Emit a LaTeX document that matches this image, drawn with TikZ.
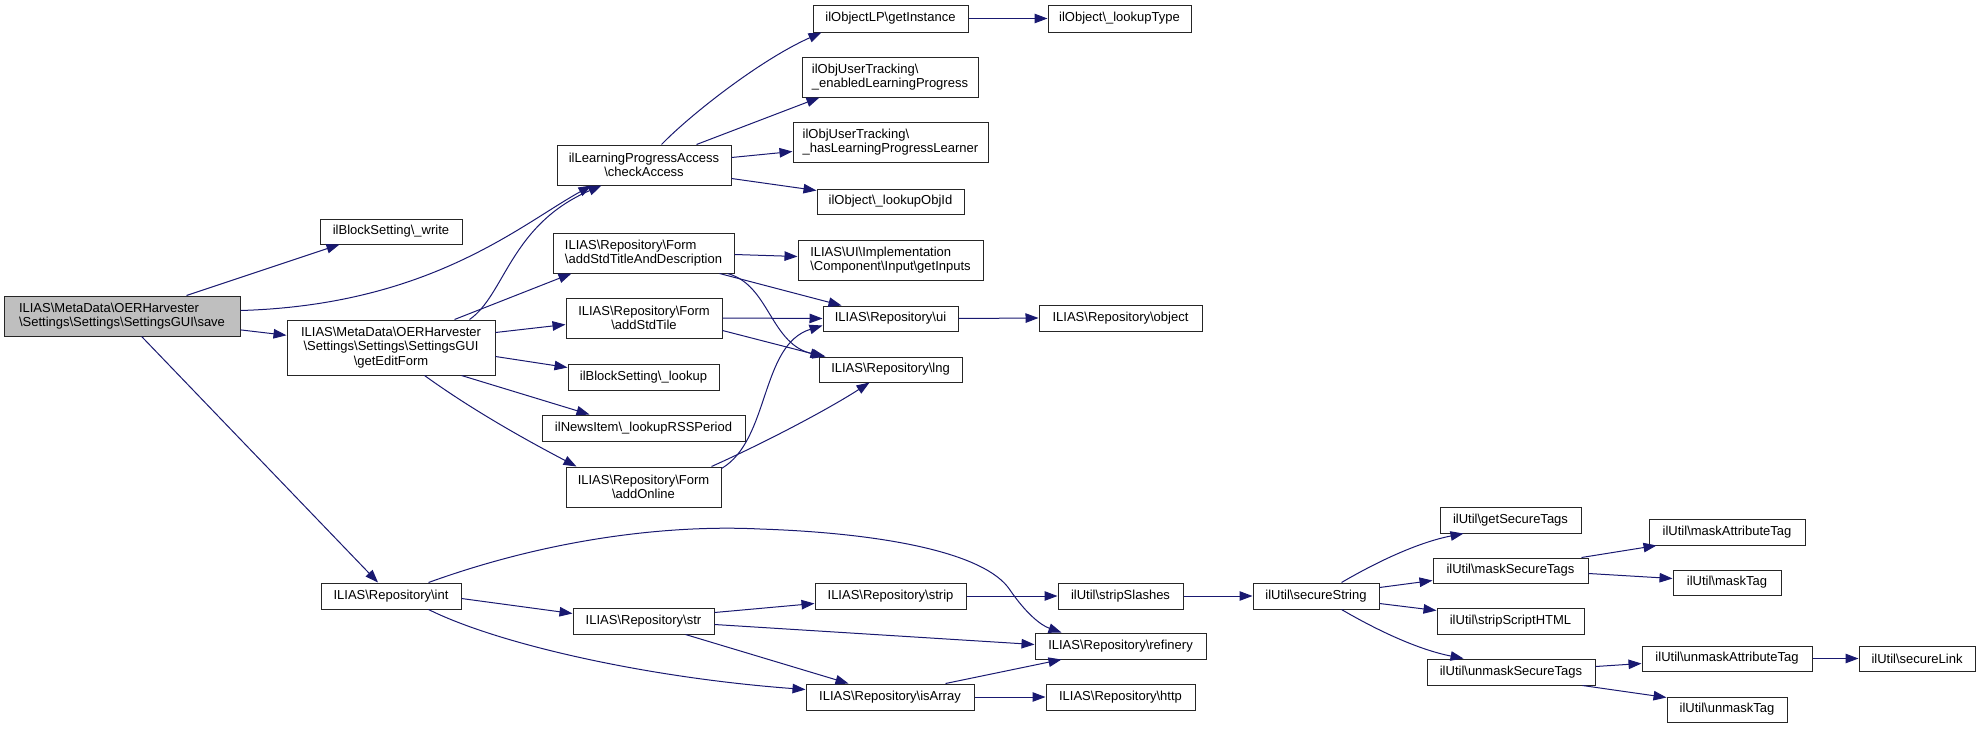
\documentclass[tikz,border=0pt]{standalone}
\usepackage{fontspec}
\setmainfont{Liberation Sans}
\usetikzlibrary{arrows.meta}
\definecolor{edgeblue}{HTML}{191970}
\definecolor{savegray}{HTML}{BFBFBF}
\newcommand{\bs}{\textbackslash}
\begin{document}
\begin{tikzpicture}[x=1pt,y=-1pt,
  box/.style={draw=black!85, line width=1pt, fill=white, inner sep=0pt, font=\fontsize{13}{14.5}\selectfont, align=center},
  edge/.style={draw=edgeblue, line width=1pt, -{Triangle[length=13pt,width=9.5pt]}}]
\useasboundingbox (0,0) rectangle (1980,728);
% rank 0
\node[box, fill=savegray, align=left, minimum width=236pt, minimum height=40pt] (save) at (122,316) {ILIAS\bs MetaData\bs OERHarvester\\\bs Settings\bs Settings\bs SettingsGUI\bs save};
% rank 1
\node[box, minimum width=142pt, minimum height=25pt] (ilBSw) at (391,231.5) {ilBlockSetting\bs\_write};
\node[box, minimum width=208pt, minimum height=55pt] (gEF) at (391,347.5) {ILIAS\bs MetaData\bs OERHarvester\\\bs Settings\bs Settings\bs SettingsGUI\\\bs getEditForm};
\node[box, minimum width=140pt, minimum height=26pt] (int) at (391,596) {ILIAS\bs Repository\bs int};
% rank 2
\node[box, minimum width=174pt, minimum height=40pt] (cA) at (644,165) {ilLearningProgressAccess\\\bs checkAccess};
\node[box, align=left, minimum width=181pt, minimum height=40pt] (atd) at (643.5,253) {ILIAS\bs Repository\bs Form\\\bs addStdTitleAndDescription};
\node[box, minimum width=156pt, minimum height=40pt] (ast) at (644,318) {ILIAS\bs Repository\bs Form\\\bs addStdTile};
\node[box, minimum width=151pt, minimum height=26pt] (ilBSl) at (643.5,377) {ilBlockSetting\bs\_lookup};
\node[box, minimum width=203pt, minimum height=26pt] (RSS) at (643.5,428) {ilNewsItem\bs\_lookupRSSPeriod};
\node[box, minimum width=155pt, minimum height=40pt] (online) at (643.5,487) {ILIAS\bs Repository\bs Form\\\bs addOnline};
\node[box, minimum width=141pt, minimum height=26pt] (str) at (643.5,621) {ILIAS\bs Repository\bs str};
% rank 3
\node[box, minimum width=155pt, minimum height=27pt] (gI) at (890.5,18.5) {ilObjectLP\bs getInstance};
\node[box, align=left, minimum width=176pt, minimum height=40pt] (en) at (890,77) {ilObjUserTracking\bs\\\_enabledLearningProgress};
\node[box, align=left, minimum width=195pt, minimum height=40pt] (has) at (890.5,142) {ilObjUserTracking\bs\\\_hasLearningProgressLearner};
\node[box, minimum width=147pt, minimum height=25pt] (loi) at (890.5,201.5) {ilObject\bs\_lookupObjId};
\node[box, align=left, minimum width=185pt, minimum height=40pt] (gIn) at (890.5,260) {ILIAS\bs UI\bs Implementation\\\bs Component\bs Input\bs getInputs};
\node[box, minimum width=135pt, minimum height=25pt] (ui) at (890.5,318.5) {ILIAS\bs Repository\bs ui};
\node[box, minimum width=143pt, minimum height=25pt] (lng) at (890.5,369.5) {ILIAS\bs Repository\bs lng};
\node[box, minimum width=151pt, minimum height=26pt] (strip) at (890.5,596) {ILIAS\bs Repository\bs strip};
\node[box, minimum width=168pt, minimum height=26pt] (isA) at (890,697) {ILIAS\bs Repository\bs isArray};
% rank 4
\node[box, minimum width=143pt, minimum height=27pt] (lT) at (1119.5,18.5) {ilObject\bs\_lookupType};
\node[box, minimum width=163pt, minimum height=26pt] (obj) at (1120.5,318) {ILIAS\bs Repository\bs object};
\node[box, minimum width=125pt, minimum height=26pt] (sS) at (1120.5,596) {ilUtil\bs stripSlashes};
\node[box, minimum width=171pt, minimum height=26pt] (ref) at (1120.5,646) {ILIAS\bs Repository\bs refinery};
\node[box, minimum width=149pt, minimum height=26pt] (http) at (1120.5,697) {ILIAS\bs Repository\bs http};
% rank 5
\node[box, minimum width=126pt, minimum height=26pt] (sSt) at (1316,596) {ilUtil\bs secureString};
% rank 6
\node[box, minimum width=141pt, minimum height=26pt] (gST) at (1510.5,520) {ilUtil\bs getSecureTags};
\node[box, minimum width=155pt, minimum height=25pt] (mST) at (1510.5,570.5) {ilUtil\bs maskSecureTags};
\node[box, minimum width=147pt, minimum height=26pt] (sSH) at (1510.5,621) {ilUtil\bs stripScriptHTML};
\node[box, minimum width=168pt, minimum height=26pt] (uST) at (1511,672) {ilUtil\bs unmaskSecureTags};
% rank 7
\node[box, minimum width=156pt, minimum height=26pt] (mAT) at (1727,532) {ilUtil\bs maskAttributeTag};
\node[box, minimum width=108pt, minimum height=25pt] (mT) at (1727,582.5) {ilUtil\bs maskTag};
\node[box, minimum width=170pt, minimum height=25pt] (uAT) at (1727,658.5) {ilUtil\bs unmaskAttributeTag};
\node[box, minimum width=120pt, minimum height=25pt] (uT) at (1727,709.5) {ilUtil\bs unmaskTag};
% rank 8
\node[box, minimum width=116pt, minimum height=25pt] (sL) at (1917,658.5) {ilUtil\bs secureLink};

% edges from save
\draw[edge] ([xshift=183pt]save.north west) -- ([xshift=20pt]ilBSw.south west);
\draw[edge] ([yshift=-15pt]save.north east) .. controls (430,305) and (520,225) .. ([xshift=35pt]cA.south west);
\draw[edge] (save) -- (gEF);
\draw[edge] (save) -- (int);
% edges from getEditForm
\draw[edge] ([xshift=183pt]gEF.north west) .. controls (505,295) and (510,225) .. ([xshift=45pt]cA.south west);
\draw[edge] ([xshift=168pt]gEF.north west) -- ([xshift=19pt]atd.south west);
\draw[edge] ([yshift=-13pt]gEF.north east) -- ([yshift=-27pt]ast.north west);
\draw[edge] ([yshift=-37pt]gEF.north east) -- ([yshift=-4pt]ilBSl.north west);
\draw[edge] ([xshift=175pt]gEF.south west) -- ([xshift=48pt]RSS.north west);
\draw[edge] ([xshift=138pt]gEF.south west) .. controls (475,412) and (530,442) .. ([xshift=11pt]online.north west);
% edges from checkAccess
\draw[edge] ([xshift=105pt]cA.north west) .. controls (690,115) and (760,60) .. ([xshift=9pt]gI.south west);
\draw[edge] ([xshift=140pt]cA.north west) -- ([xshift=18pt]en.south west);
\draw[edge] ([yshift=-13pt]cA.north east) -- ([yshift=-30pt]has.north west);
\draw[edge] ([yshift=-34pt]cA.north east) -- ([yshift=-2pt]loi.north west);
\draw[edge] (gI.east) -- (lT.west);
% edges from form helpers
\draw[edge] ([yshift=-22pt]atd.north east) -- ([yshift=-17pt]gIn.north west);
\draw[edge] ([xshift=167pt]atd.south west) -- ([xshift=19pt]ui.north west);
\draw[edge] ([xshift=175pt]atd.south west) .. controls (770,285) and (770,345) .. ([xshift=7pt]lng.north west);
\draw[edge] (ast.east) -- (ui.west);
\draw[edge] ([yshift=-33pt]ast.north east) -- ([xshift=5pt]lng.north west);
\draw[edge] ([yshift=-2pt]online.north east) .. controls (770,440) and (760,345) .. ([yshift=-20pt]ui.north west);
\draw[edge] ([xshift=146pt]online.north west) .. controls (775,438) and (835,405) .. ([xshift=51pt]lng.south west);
\draw[edge] (ui.east) -- (obj.west);
% edges from int / str / isArray
\draw[edge] ([xshift=108pt]int.north west) .. controls (560,535) and (680,525) .. (760,529) .. controls (880,533) and (985,552) .. (1010,590) .. controls (1025,612) and (1040,625) .. ([xshift=27pt]ref.north west);
\draw[edge] ([yshift=-16pt]int.north east) -- ([yshift=-6pt]str.north west);
\draw[edge] ([xshift=108pt]int.south west) .. controls (500,645) and (650,678) .. ([yshift=-6pt]isA.north west);
\draw[edge] ([yshift=-5pt]str.north east) -- ([yshift=-21pt]strip.north west);
\draw[edge] ([yshift=-17pt]str.north east) -- ([yshift=-12pt]ref.north west);
\draw[edge] ([xshift=113pt]str.south west) -- ([xshift=43pt]isA.north west);
\draw[edge] ([xshift=140pt]isA.north west) -- ([xshift=27pt]ref.south west);
\draw[edge] (isA.east) -- (http.west);
\draw[edge] (strip.east) -- (sS.west);
\draw[edge] (sS.east) -- (sSt.west);
% edges from secureString
\draw[edge] ([xshift=89pt]sSt.north west) .. controls (1380,560) and (1420,542) .. ([xshift=24pt]gST.south west);
\draw[edge] ([yshift=-5pt]sSt.north east) -- ([yshift=-23pt]mST.north west);
\draw[edge] ([yshift=-21pt]sSt.north east) -- ([yshift=-3pt]sSH.north west);
\draw[edge] ([xshift=89pt]sSt.south west) .. controls (1380,632) and (1420,650) .. ([xshift=37pt]uST.north west);
\draw[edge] ([xshift=149pt]mST.north west) -- ([xshift=8pt]mAT.south west);
\draw[edge] ([yshift=-16pt]mST.north east) -- ([yshift=-9pt]mT.north west);
\draw[edge] ([yshift=-8pt]uST.north east) -- ([yshift=-18pt]uAT.north west);
\draw[edge] ([xshift=156pt]uST.south west) -- ([yshift=-1pt]uT.north west);
\draw[edge] (uAT.east) -- (sL.west);
\end{tikzpicture}
\end{document}
